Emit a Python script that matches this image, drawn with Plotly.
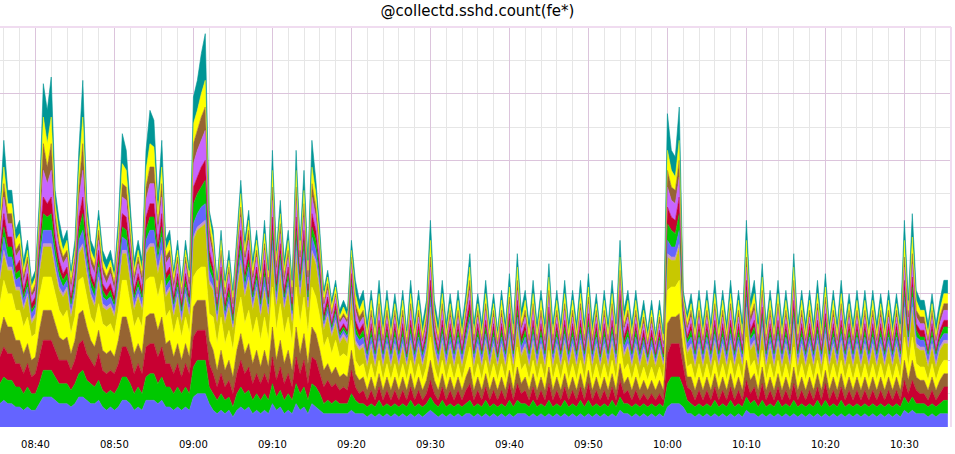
import pandas as pd
import plotly.graph_objects as go

# collectd sshd process counts per fe* host, 30 s samples from 08:35:30
START = "2024-01-01 08:35:30"

blue = [7,8,7,7,6,6,5,6,5,5, 7,9,9,9,8,7,7,7,6,7, 9,9,8,7,7,8,6,5,6,5, 6,8,8,7,5,6,5,8,8,8,
        7,8,6,6,5,6,5,6,5,9, 10,10,10,7,5,4,5,4,5,3, 5,6,5,6,4,5,4,5,4,7, 5,6,4,5,4,7,5,6,4,7,
        6,5,4,4,4,4,4,4,4,5, 4,4,
        4,3,4,3,4,3,4,3,4,3, 4,3,4,3,4,3,4,5,4,3, 4,3,4,3,4,3,4,4,3,4, 3,4,3,4,3,4,3,4,3,4,
        4,4,3,4,3,4,3,4,3,4, 3,4,3,4,3,4,3,4,3,4, 3,4,3,4,3,5,4,4,3,4, 3,4,3,4,3,4,3,6,7,7,
        7,6,4,4,3,4,3,4,3,4, 3,4,3,4,3,4,3,5,4,4, 3,4,3,4,3,4,3,4,3,4, 3,4,3,4,3,4,3,4,3,4,
        3,4,3,4,3,4,3,4,3,4, 3,4,3,4,3,4,3,5,4,5, 4,4,4,3,4,3,4,4,4]
green = [6,7,7,7,6,6,5,6,5,5, 6,8,8,8,7,6,6,6,5,6, 7,8,6,6,5,6,5,5,5,5, 6,7,7,6,5,6,5,7,8,8,
         6,7,6,6,5,6,5,6,5,9, 10,10,10,5,5,4,5,4,4,3, 5,6,5,5,4,5,4,5,4,6, 4,5,4,5,4,6,5,6,4,6,
         6,5,3,4,3,4,3,3,3,5, 4,3,
         3,3,3,3,4,3,3,3,3,3, 3,3,4,3,3,3,3,4,3,3, 4,3,3,3,3,3,3,4,3,3, 3,4,3,3,3,3,3,4,3,4,
         3,3,3,4,3,3,3,4,3,3, 3,4,3,3,3,4,3,4,3,3, 3,3,3,4,3,4,3,3,3,3, 3,3,3,3,3,3,3,7,8,8,
         8,6,4,3,3,3,3,3,3,4, 3,3,3,4,3,3,3,4,3,4, 3,4,3,3,3,4,3,3,3,4, 3,3,3,3,3,4,3,4,3,3,
         3,4,3,3,3,3,3,3,3,3, 3,3,3,3,3,3,3,4,3,4, 3,3,3,3,3,3,3,4,4]
red = [8,9,8,8,7,7,6,7,5,6, 8,9,9,9,8,7,7,7,6,7, 9,9,8,7,6,8,6,6,6,6, 7,9,9,8,6,7,6,9,9,9,
       8,9,7,7,6,7,5,7,6,9, 9,9,9,7,6,4,6,4,5,4, 6,8,6,7,5,6,5,6,5,8, 5,7,5,6,4,8,6,8,5,8,
       8,6,5,6,5,5,4,5,4,7, 4,3,
       4,2,4,2,4,2,4,2,4,2, 4,2,4,2,4,2,3,5,3,2, 4,2,4,2,4,2,4,5,2,4, 2,4,2,4,2,4,2,5,2,5,
       3,4,2,4,2,4,2,5,2,4, 2,4,2,4,2,4,2,5,2,4, 2,4,2,4,2,5,3,4,2,4, 2,3,2,3,2,3,2,9,10,10,
       10,6,4,4,2,4,2,4,2,4, 2,4,2,4,2,4,2,5,3,4, 2,5,2,4,2,4,2,4,2,5, 2,4,2,4,2,4,2,5,2,4,
       2,4,2,4,2,4,2,4,2,4, 2,4,2,4,2,4,2,5,3,5, 4,3,3,2,4,2,3,4,4]
brown = [7,9,8,8,7,7,6,6,5,5, 8,9,9,9,8,7,6,7,5,6, 9,9,8,6,6,7,6,6,6,5, 7,9,9,7,6,6,6,9,9,9,
         8,9,6,7,5,6,5,6,5,9, 9,9,9,7,7,5,7,5,6,5, 7,8,6,7,6,7,5,7,5,9, 6,8,6,7,5,9,6,8,6,9,
         8,7,5,5,4,5,4,4,4,6, 4,4,
         4,3,4,3,4,3,4,3,4,3, 4,3,4,3,4,3,4,6,4,3, 4,3,4,3,4,3,4,5,3,4, 3,4,3,4,3,4,3,4,3,5,
         3,4,3,4,3,4,3,5,3,4, 3,4,3,4,3,4,3,4,3,4, 3,4,3,4,3,5,3,4,3,4, 3,4,3,4,3,4,3,9,8,8,
         9,5,3,4,3,4,3,4,3,4, 3,4,3,4,3,4,3,6,4,4, 3,5,3,4,3,4,3,4,3,5, 3,4,3,4,3,4,3,4,3,4,
         3,4,3,4,3,4,3,4,3,4, 3,4,3,4,3,4,3,6,4,6, 4,4,4,3,4,3,4,4,4]
yellow = [9,11,10,10,9,9,8,8,7,7, 10,10,10,10,9,8,7,8,6,7, 10,10,9,7,7,8,8,8,8,7, 9,11,11,9,8,8,8,11,11,11,
          10,11,8,9,7,8,7,8,7,9, 9,10,10,8,10,8,10,8,9,8, 10,11,9,10,9,10,8,10,8,12, 9,11,9,10,8,12,9,11,9,12,
          11,10,7,8,6,8,6,6,6,9, 4,4,
          4,3,4,3,4,3,4,3,4,3, 4,3,4,3,4,3,4,7,4,3, 4,3,4,3,4,3,4,6,3,4, 3,4,3,4,3,4,3,5,3,6,
          4,4,3,4,3,4,3,5,3,4, 3,4,3,4,3,4,3,5,3,4, 3,4,3,4,3,6,4,4,3,4, 3,4,3,4,3,4,3,10,9,9,
          10,4,3,4,3,4,3,4,3,4, 3,4,3,4,3,4,3,7,4,4, 3,5,3,4,3,4,3,4,3,6, 3,4,3,4,3,4,3,5,3,4,
          3,4,3,4,3,4,3,4,3,4, 3,4,3,4,3,4,3,7,4,7, 4,4,4,3,4,3,4,4,4]
gold = [7,8,7,7,6,6,5,6,4,5, 7,9,9,9,7,6,6,6,5,6, 8,9,7,6,5,7,5,5,5,5, 6,8,8,7,5,6,5,8,9,9,
        7,8,6,6,5,6,4,6,5,11, 12,12,13,9,8,6,8,6,7,6, 8,10,8,9,7,8,7,8,7,10, 7,9,7,8,6,10,8,10,7,10,
        10,8,5,6,5,5,4,5,4,7, 5,5,
        5,4,5,4,5,4,5,4,5,4, 5,4,5,4,5,4,5,8,5,4, 5,4,5,4,5,4,5,6,4,5, 4,5,4,5,4,5,4,5,4,6,
        4,5,4,5,4,5,4,6,4,5, 4,5,4,5,4,5,4,5,4,5, 4,5,4,5,4,7,4,5,4,5, 4,5,4,5,4,5,4,10,8,8,
        10,4,4,5,4,5,4,5,4,5, 4,5,4,5,4,5,4,8,5,5, 4,6,4,5,4,5,4,5,4,6, 4,5,4,5,4,5,4,5,4,5,
        4,5,4,5,4,5,4,5,4,5, 4,5,4,5,4,5,4,8,5,8, 5,5,5,4,5,4,5,5,5]
rose = [1,1,1,1,1,1,1,1,1,1, 1,1,1,1,1,1,1,1,1,1, 1,1,1,1,1,1,1,1,1,1, 1,1,1,1,1,1,1,1,1,1,
        1,1,1,1,1,1,1,1,1,1, 1,1,1,1,1,1,1,1,1,1, 1,1,1,1,1,1,1,1,1,1, 1,1,1,1,1,1,1,1,1,1,
        1,1,1,1,1,1,1,1,1,1, 1,1,
        1,1,1,1,1,1,1,1,1,1, 1,1,1,1,1,1,1,1,1,1, 1,1,1,1,1,1,1,1,1,1, 1,1,1,1,1,1,1,1,1,1,
        1,1,1,1,1,1,1,1,1,1, 1,1,1,1,1,1,1,1,1,1, 1,1,1,1,1,1,1,1,1,1, 1,1,1,1,1,1,1,1,1,1,
        1,1,1,1,1,1,1,1,1,1, 1,1,1,1,1,1,1,1,1,1, 1,1,1,1,1,1,1,1,1,1, 1,1,1,1,1,1,1,1,1,1,
        1,1,1,1,1,1,1,1,1,1, 1,1,1,1,1,1,1,1,1,1, 1,1,1,1,1,1,1,1,1]
blue2 = [3,4,3,3,2,3,2,2,2,2, 3,4,4,4,3,3,2,2,2,2, 3,4,3,2,2,3,2,2,2,2, 3,4,3,3,2,2,2,3,4,4,
         3,4,2,2,2,2,2,2,2,4, 4,5,5,3,2,2,2,2,2,1, 2,3,2,3,2,2,2,3,2,3, 2,3,2,2,2,3,2,3,2,4,
         3,2,1,2,1,2,1,1,1,2, 2,2,
         2,2,2,2,2,2,2,2,2,2, 2,1,2,2,2,2,2,3,2,2, 2,2,2,2,2,2,2,2,2,2, 2,2,2,2,1,2,2,2,2,2,
         2,2,2,2,2,2,2,2,2,2, 2,2,2,2,2,2,2,2,2,2, 1,2,2,2,2,3,2,2,2,2, 2,2,1,2,1,2,1,4,3,3,
         4,1,2,2,2,2,2,2,2,2, 2,2,2,2,2,2,2,3,2,2, 2,2,2,2,2,2,2,2,2,2, 2,2,2,2,2,2,2,2,2,2,
         2,2,2,2,2,2,2,2,2,2, 2,2,2,2,2,2,2,3,2,3, 2,2,2,2,2,2,2,2,2]
green2 = [2,3,3,3,2,2,1,2,1,1, 2,5,4,5,3,2,2,2,1,2, 3,5,2,2,2,2,2,1,2,1, 2,3,3,2,1,2,1,3,4,4,
          2,3,2,2,1,2,1,2,1,6, 6,6,7,3,2,1,2,1,2,1, 2,3,2,2,1,2,1,2,1,3, 2,2,1,2,1,3,2,3,1,3,
          3,2,1,1,1,1,1,1,1,2, 2,1,
          2,1,2,1,2,1,2,1,2,1, 2,1,2,1,2,1,1,2,1,1, 2,1,2,1,2,1,2,2,1,2, 1,2,1,2,1,2,1,2,1,2,
          1,2,1,2,1,2,1,2,1,2, 1,2,1,2,1,2,1,2,1,2, 1,2,1,2,1,2,1,2,1,2, 1,1,1,1,1,1,1,5,5,4,
          5,1,1,2,1,2,1,2,1,2, 1,2,1,2,1,2,1,2,1,2, 1,2,1,2,1,2,1,2,1,2, 1,2,1,2,1,2,1,2,1,2,
          1,2,1,2,1,2,1,2,1,2, 1,2,1,2,1,2,1,2,1,3, 2,1,1,1,2,1,1,2,2]
red2 = [3,4,3,3,2,3,2,2,2,2, 3,5,4,5,3,3,2,2,2,2, 4,5,3,2,2,3,2,2,2,2, 3,4,4,3,2,2,2,4,4,4,
        3,4,2,2,2,2,2,2,2,5, 5,6,6,3,2,2,2,2,2,2, 2,3,2,3,2,2,2,3,2,4, 2,3,2,2,2,4,2,3,2,4,
        3,2,2,2,1,2,1,1,1,2, 2,2,
        2,1,2,1,2,1,2,1,2,1, 2,1,2,1,2,1,2,3,2,1, 2,1,2,1,2,1,2,3,1,2, 1,2,1,2,1,2,1,2,1,3,
        2,2,1,2,1,2,1,2,1,2, 1,2,1,2,1,2,1,2,1,2, 1,2,1,2,1,3,2,2,1,2, 1,2,1,2,1,2,1,5,4,4,
        5,1,1,2,1,2,1,2,1,2, 1,2,1,2,1,2,1,3,2,2, 1,2,1,2,1,2,1,2,1,3, 1,2,1,2,1,2,1,2,1,2,
        1,2,1,2,1,2,1,2,1,2, 1,2,1,2,1,2,1,3,2,3, 2,2,2,1,2,1,2,2,2]
purple = [3,5,4,4,3,3,2,3,2,2, 3,8,6,8,4,3,3,3,2,3, 5,8,3,3,3,3,3,2,3,2, 3,5,5,3,2,3,2,5,6,6,
          3,5,3,3,2,3,2,3,2,7, 8,8,9,4,3,2,3,2,3,2, 3,4,3,3,2,3,2,3,2,5, 3,3,2,3,2,5,3,4,2,5,
          4,3,2,2,2,2,2,2,2,3, 3,2,
          2,2,2,2,3,2,2,2,2,2, 2,2,3,2,2,2,2,4,2,2, 3,2,2,2,2,2,2,3,2,2, 2,3,2,2,2,2,2,3,2,3,
          2,2,2,3,2,2,2,3,2,2, 2,3,2,2,2,3,2,3,2,2, 2,2,2,3,2,3,2,2,2,2, 2,2,2,2,2,2,2,6,5,5,
          6,2,2,2,2,2,2,2,2,3, 2,2,2,3,2,2,2,4,2,3, 2,3,2,2,2,3,2,2,2,3, 2,2,2,2,2,3,2,3,2,2,
          2,3,2,2,2,2,2,2,2,2, 2,2,2,2,2,2,2,4,2,4, 2,2,2,2,2,2,2,3,3]
brown2 = [3,4,3,3,2,2,2,2,1,2, 3,8,5,8,3,2,2,2,2,2, 4,8,3,2,2,3,2,2,2,2, 2,4,4,3,2,2,2,4,5,5,
          3,4,2,2,2,2,1,2,2,6, 6,7,7,3,2,1,2,1,2,1, 2,3,2,3,2,2,2,2,2,4, 2,3,2,2,1,4,2,4,2,4,
          3,2,1,2,1,1,1,1,1,2, 2,2,
          2,1,2,1,2,1,2,1,2,1, 2,1,2,1,2,1,2,3,2,1, 2,1,2,1,2,1,2,3,1,2, 1,2,1,2,1,2,1,2,1,3,
          1,2,1,2,1,2,1,2,1,2, 1,2,1,2,1,2,1,2,1,2, 1,2,1,2,1,3,1,2,1,2, 1,2,1,2,1,2,1,5,4,4,
          5,1,1,2,1,2,1,2,1,2, 1,2,1,2,1,2,1,3,2,2, 1,2,1,2,1,2,1,2,1,3, 1,2,1,2,1,2,1,2,1,2,
          1,2,1,2,1,2,1,2,1,2, 1,2,1,2,1,2,1,3,2,3, 2,2,2,1,2,1,2,2,2]
yellow2 = [3,5,3,3,3,3,2,2,2,2, 3,8,7,8,3,3,2,3,2,2, 5,8,3,2,2,3,2,2,2,2, 3,6,5,3,2,2,2,5,7,6,
           3,5,2,3,2,2,2,2,2,6, 6,7,8,3,3,2,3,2,2,2, 3,4,2,3,2,3,2,3,2,5, 2,3,2,3,2,5,2,4,2,5,
           4,3,2,2,2,2,1,2,1,2, 3,2,
           3,2,3,2,3,2,3,2,2,2, 3,2,3,2,3,2,2,5,2,2, 3,2,2,2,3,2,2,4,2,2, 2,3,2,2,2,3,2,3,2,4,
           2,3,2,3,2,3,2,4,2,3, 2,3,2,3,2,3,2,3,2,2, 2,3,2,3,2,4,2,3,2,3, 2,2,2,2,1,2,1,6,5,4,
           6,1,2,2,2,3,2,3,2,3, 2,3,2,3,2,3,2,5,2,3, 2,4,2,3,2,3,2,3,2,4, 2,3,2,3,2,3,2,3,2,3,
           2,3,2,2,2,3,2,3,2,3, 2,2,2,3,2,2,2,5,2,5, 3,2,2,2,2,2,2,3,3]
teal = [3,8,4,4,3,4,3,3,2,2, 4,10,10,12,4,4,3,3,2,3, 6,11,4,3,3,3,3,3,3,2, 4,9,6,3,3,3,3,6,10,8,
        4,8,3,3,2,3,2,3,2,8, 9,12,14,2,3,2,3,2,3,2, 3,4,3,3,3,3,2,4,2,6, 3,4,3,3,2,6,3,6,3,8,
        4,3,2,2,2,2,2,2,2,3, 4,3,
        3,3,3,3,4,3,3,3,3,3, 3,2,4,3,3,3,3,6,3,3, 4,3,3,3,3,3,3,4,3,3, 3,4,3,3,2,3,3,4,3,4,
        3,3,3,4,3,3,3,4,3,3, 3,4,3,3,3,4,3,4,3,3, 2,3,3,4,3,5,3,3,3,3, 3,3,2,3,2,3,2,11,6,6,
        10,2,2,3,3,3,3,3,3,4, 3,3,3,4,3,3,3,6,3,4, 3,4,3,3,3,4,3,3,3,4, 3,3,3,3,3,4,3,4,3,3,
        3,4,3,3,3,3,3,3,3,3, 3,3,3,3,3,3,3,6,3,7, 3,3,3,3,3,3,3,4,4]

series_names = ["fe01", "fe02", "fe03", "fe04", "fe05", "fe06", "fe07",
                "fe08", "fe09", "fe10", "fe11", "fe12", "fe13", "fe14"]
series_values = [blue, green, red, brown, yellow, gold, rose,
                 blue2, green2, red2, purple, brown2, yellow2, teal]
series_colors = ["#6464ff", "#00c800", "#c80032", "#966432", "#ffff00", "#c8c800", "#c896c8",
                 "#6464ff", "#00c800", "#c80032", "#c864ff", "#966432", "#ffff00", "#009696"]

times = pd.date_range(START, periods=len(blue), freq="30s")

fig = go.Figure()
for name, vals, col in zip(series_names, series_values, series_colors):
    fig.add_trace(go.Scatter(
        x=times, y=vals, name=name, mode="lines", stackgroup="one",
        line=dict(color=col, width=0.6), fillcolor=col, hoverinfo="skip"))

MAJOR = "#dcc4dc"
MINOR = "#e6e6e6"
fig.update_layout(
    width=955, height=454,
    margin=dict(l=0, r=4, t=27, b=27, pad=0),
    paper_bgcolor="white", plot_bgcolor="white",
    showlegend=False,
    font=dict(family="DejaVu Sans", color="black", size=10),
    title=dict(text="@collectd.sshd.count(fe*)", x=0.5, xanchor="center",
               y=1 - 11 / 454, yanchor="middle", yref="container",
               font=dict(family="DejaVu Sans", size=15, color="black")),
    xaxis=dict(type="date", range=["2024-01-01 08:35:31", "2024-01-01 10:35:54"],
               tickformat="%H:%M", dtick=600000, tick0="2024-01-01 08:40:00",
               showgrid=True, gridcolor=MAJOR, gridwidth=1,
               minor=dict(dtick=120000, tick0="2024-01-01 08:40:00", showgrid=True, gridcolor=MINOR),
               zeroline=False, showline=False, ticks="outside", ticklen=8,
               tickcolor="rgba(0,0,0,0)", tickfont=dict(size=10)),
    yaxis=dict(range=[0, 120], dtick=20, showticklabels=False,
               showgrid=True, gridcolor=MAJOR,
               minor=dict(dtick=10, showgrid=True, gridcolor=MINOR),
               zeroline=False, showline=False),
)
fig.add_shape(type="line", xref="paper", yref="paper", x0=0, x1=1, y0=1, y1=1,
              line=dict(color="#f0dcf0", width=2))
fig.add_shape(type="line", xref="paper", yref="paper", x0=1, x1=1, y0=0, y1=1,
              line=dict(color="#f0dcf0", width=2))

# drop the page's default 8px body margin so the chart sits at the window origin
fig.write_html("out.html", config={"displayModeBar": False},
               post_script="document.body.style.margin='0';")
